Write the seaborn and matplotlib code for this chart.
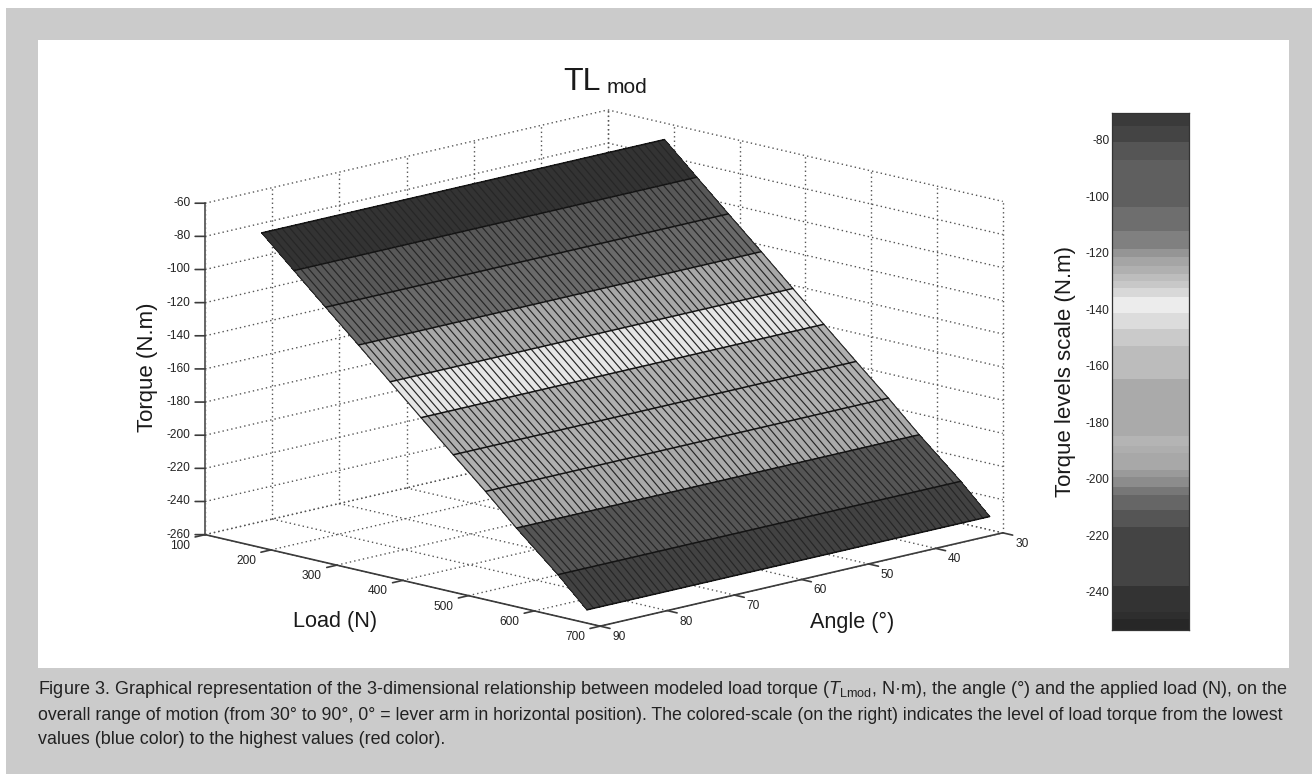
import numpy as np
import seaborn as sns
import matplotlib
matplotlib.use("Agg")
import matplotlib.pyplot as plt
from matplotlib.patches import Rectangle
from matplotlib.colors import to_rgba
from mpl_toolkits.mplot3d import proj3d

# ticks of the 3D box
load_ticks = [100, 200, 300, 400, 500, 600, 700]
angle_ticks = [30, 40, 50, 60, 70, 80, 90]
torque_ticks = [-60, -80, -100, -120, -140, -160, -180, -200, -220, -240, -260]

# surface
load_levels = [186, 235, 283, 333, 381, 428, 477, 526, 573, 636, 680]
torque_levels = [-70, -88.2, -105.9, -124.1, -141.9, -159.2, -177.1, -194.7, -212.5, -234.8, -252]
angle_levels = list(range(30, 91))
surface_grays = ['#333333', '#585858', '#6a6a6a', '#a8a8a8', '#e6e6e6',
                 '#b0b0b0', '#b0b0b0', '#aaaaaa', '#555555', '#424242']

# scale on the right
scale_ticks = [-80, -100, -120, -140, -160, -180, -200, -220, -240]
scale_edges = [-70.6, -74.9, -80.8, -87.1, -103.8, -112.3, -118.5, -121.5, -124.4, -127.6,
               -130, -132.6, -135.6, -141.3, -147.1, -153, -164.5, -185.1, -188.4, -190.7,
               -197.1, -199.6, -202.8, -205.7, -211, -217.1, -237.8, -246.9, -249.6, -253.4]
scale_grays = [0x3a, 0x44, 0x55, 0x5f, 0x6e, 0x80, 0x95, 0xa5, 0xb0, 0xbd, 0xc8, 0xd8, 0xec, 0xdc, 0xca,
               0xbc, 0xaa, 0xb4, 0xae, 0xa8, 0x9a, 0x8c, 0x77, 0x66, 0x55, 0x44, 0x33, 0x2e, 0x27]

caption_lines = [
    r"Figure 3. Graphical representation of the 3-dimensional relationship between modeled load torque ($\mathit{T}_{\mathrm{Lmod}}$, N·m), the angle (°) and the applied load (N), on the",
    "overall range of motion (from 30° to 90°, 0° = lever arm in horizontal position). The colored-scale (on the right) indicates the level of load torque from the lowest",
    "values (blue color) to the highest values (red color).",
]

sns.set_theme(style="white")
plt.rcParams['font.family'] = ['Liberation Sans', 'DejaVu Sans']
plt.rcParams['mathtext.fontset'] = 'custom'
plt.rcParams['mathtext.rm'] = 'Liberation Sans'
plt.rcParams['mathtext.it'] = 'Liberation Sans:italic'
plt.rcParams['text.color'] = '#1a1a1a'

W, H = 1312, 774
fig = plt.figure(figsize=(W / 100, H / 100), dpi=100, facecolor='white')


def px_rect(x0, y0, x1, y1):
    # pixel box (y from the top) to figure fractions
    return [x0 / W, 1 - y1 / H, (x1 - x0) / W, (y1 - y0) / H]


# grey page and white panel
fig.add_artist(Rectangle((6 / W, 0), 1 - 6 / W, 1 - 8 / H, transform=fig.transFigure, color='#cbcbcb', lw=0, zorder=-5))
fig.add_artist(Rectangle((38 / W, 1 - 668 / H), 1251 / W, 628 / H, transform=fig.transFigure, color='white', lw=0, zorder=-4))

# 3D box, the axes is larger than the figure on purpose
S = 842
ax = fig.add_axes(px_rect(171.6, 774 + 26.4 - S, 171.6 + S, 774 + 26.4), projection='3d',
                  proj_type='ortho', computed_zorder=False)
ax.set_xlim(100, 700, view_margin=0)
ax.set_ylim(90, 30, view_margin=0)
ax.set_zlim(-260, -60, view_margin=0)
ax.set_box_aspect((559, 570, 341))
ax.view_init(elev=13.4, azim=-45)
ax.set_axis_off()
ax.patch.set_visible(False)

grid_kw = dict(color='#555555', lw=1.0, ls=(0, (1, 2.2)), zorder=1)
# walls
for t in torque_ticks:
    ax.plot([100, 100], [90, 30], [t, t], **grid_kw)
    ax.plot([100, 700], [30, 30], [t, t], **grid_kw)
for a in angle_ticks:
    ax.plot([100, 100], [a, a], [-260, -60], **grid_kw)
    ax.plot([100, 700], [a, a], [-260, -260], **grid_kw)
for l in load_ticks:
    ax.plot([l, l], [30, 30], [-260, -60], **grid_kw)
    ax.plot([l, l], [90, 30], [-260, -260], **grid_kw)

# surface
X, Y = np.meshgrid(load_levels, angle_levels)
Z = np.tile(torque_levels, (len(angle_levels), 1))
faces = np.array([[to_rgba(g) for g in surface_grays]] * (len(angle_levels) - 1))
surf = ax.plot_surface(X, Y, Z, facecolors=faces, rstride=1, cstride=1, shade=False, zorder=2)
surf.set_edgecolor('none')
surf.set_antialiased(False)
for a in angle_levels:
    ax.plot(load_levels, [a] * len(load_levels), torque_levels, color='#262626', lw=0.85, zorder=3)
for l, t in zip(load_levels, torque_levels):
    ax.plot([l, l], [90, 30], [t, t], color='#141414', lw=1.1, zorder=4)

# axis lines and ticks
axis_kw = dict(color='#3c3c3c', lw=1.2, zorder=5)
ax.plot([100, 700], [90, 90], [-260, -260], **axis_kw)
ax.plot([700, 700], [90, 30], [-260, -260], **axis_kw)
ax.plot([100, 100], [90, 90], [-260, -60], color='#666666', lw=1.4, zorder=5)
for l in load_ticks:
    ax.plot([l, l], [90, 91.5], [-260, -260], **axis_kw)
for a in angle_ticks:
    ax.plot([700, 715], [a, a], [-260, -260], **axis_kw)
for t in torque_ticks:
    ax.plot([100, 92.4], [90, 90.75], [t, t], **axis_kw)


def label3d(text, x, y, z, dx, dy, **kw):
    # text at a fixed pixel offset from a projected 3D point
    xs, ys, _ = proj3d.proj_transform(x, y, z, ax.get_proj())
    ax.annotate(text, (xs, ys), xytext=(dx, dy), textcoords='offset pixels',
                va='center', fontsize=8.6, color='#222222', annotation_clip=False, **kw)


for l in load_ticks:
    label3d(str(l), l, 90, -260, -25, -11, ha='center')
for a in angle_ticks:
    label3d(str(a), 700, a, -260, 19, -11, ha='center')
for t in torque_ticks:
    label3d(str(t), 100, 90, t, -15, 0, ha='right')

# scale on the right, one heatmap row per 0.25 N.m
step = 0.25
torque_grid = np.arange(scale_edges[0], scale_edges[-1], -step)
band = np.searchsorted(-np.array(scale_edges), -torque_grid, side='right') - 1
band = np.clip(band, 0, len(scale_grays) - 1)
scale_col = np.array(scale_grays)[band].reshape(-1, 1) / 255

cax = fig.add_axes(px_rect(1112, 113, 1189, 630))
sns.heatmap(scale_col, cmap='gray', vmin=0, vmax=1, cbar=False, xticklabels=False, yticklabels=False, ax=cax)
for side in cax.spines.values():
    side.set_visible(True)
    side.set_color('#333333')
    side.set_linewidth(0.9)
tick_pos = [(scale_edges[0] - t) / step for t in scale_ticks]
cax.set_yticks(tick_pos)
cax.set_yticklabels([str(t) for t in scale_ticks], fontsize=8.6, color='#222222', rotation=0)
cax.tick_params(axis='y', left=True, right=True, direction='in', length=5, width=0.9, color='#222222', pad=2)

# texts
fig.text(148 / W, 1 - 367 / H, "Torque (N.m)", rotation=90, ha='center', va='center', fontsize=16)
fig.text(1065 / W, 1 - 371.5 / H, "Torque levels scale (N.m)", rotation=90, ha='center', va='center', fontsize=16)
fig.text(335 / W, 1 - 622 / H, "Load (N)", ha='center', va='center', fontsize=15.6)
fig.text(852 / W, 1 - 622 / H, "Angle (°)", ha='center', va='center', fontsize=15.6)
fig.text(563 / W, 1 - 90 / H, "TL", ha='left', va='baseline', fontsize=23)
fig.text(607 / W, 1 - 92.7 / H, "mod", ha='left', va='baseline', fontsize=15)

for line, y, size in zip(caption_lines, [690, 715, 739], [13.0, 12.8, 12.9]):
    fig.text(38 / W, 1 - y / H, line, ha='left', va='center', fontsize=size, color='#222222')

fig.savefig("out.png", dpi=100)
